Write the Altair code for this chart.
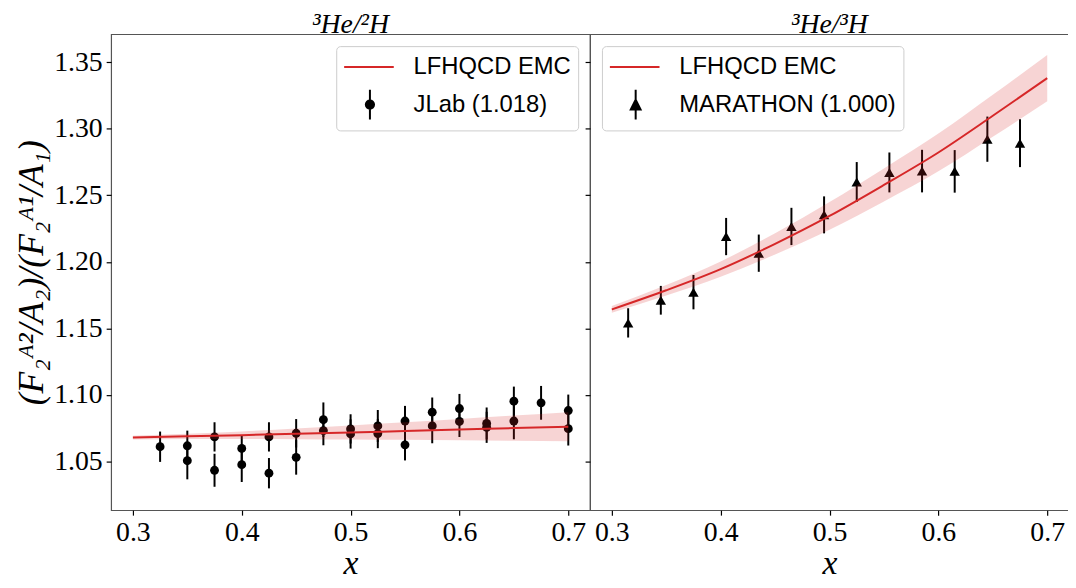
import altair as alt
import pandas as pd

RED = "#d62728"

# ---- axis ticks ----
x_ticks = [0.3, 0.4, 0.5, 0.6, 0.7]
y_ticks = [1.05, 1.10, 1.15, 1.20, 1.25, 1.30, 1.35]

# ---- left panel: 3He/2H, JLab data ----
jlab_x = [0.325, 0.35, 0.35, 0.375, 0.375, 0.40, 0.40, 0.425, 0.425, 0.45, 0.45,
          0.475, 0.475, 0.50, 0.50, 0.525, 0.525, 0.55, 0.55, 0.575, 0.575,
          0.60, 0.60, 0.625, 0.625, 0.65, 0.65, 0.675, 0.70, 0.70]
jlab_y = [1.0610, 1.0617, 1.0505, 1.0684, 1.0433, 1.0597, 1.0475, 1.0684, 1.0411,
          1.0711, 1.0530, 1.0813, 1.0731, 1.0744, 1.0706, 1.0766, 1.0709, 1.0803,
          1.0624, 1.0870, 1.0766, 1.0897, 1.0800, 1.0785, 1.0756, 1.0952, 1.0803,
          1.0940, 1.0882, 1.0746]
jlab_err = [0.0114, 0.0114, 0.0140, 0.0110, 0.0124, 0.0097, 0.0130, 0.0110, 0.0114,
            0.0107, 0.0130, 0.0130, 0.0110, 0.0110, 0.0110, 0.0120, 0.0110, 0.0114,
            0.0117, 0.0110, 0.0130, 0.0110, 0.0117, 0.0120, 0.0117, 0.0110, 0.0137,
            0.0127, 0.0120, 0.0127]

# ---- right panel: 3He/3H, MARATHON data ----
mar_x = [0.315, 0.345, 0.375, 0.405, 0.435, 0.465, 0.495, 0.525, 0.555, 0.585,
         0.615, 0.645, 0.675]
mar_y = [1.1541, 1.1711, 1.1772, 1.2190, 1.2065, 1.2266, 1.2353, 1.2600, 1.2672,
         1.2682, 1.2680, 1.2922, 1.2892]
mar_err = [0.0110, 0.0108, 0.0129, 0.0140, 0.0140, 0.0140, 0.0139, 0.0150, 0.0150,
           0.0160, 0.0160, 0.0170, 0.0180]

# ---- LFHQCD EMC curves and bands ----
curve_x = [0.30, 0.35, 0.40, 0.45, 0.50, 0.55, 0.60, 0.65, 0.70]
emc_hed = [1.0679, 1.0688, 1.0697, 1.0707, 1.0717, 1.0728, 1.0739, 1.0750, 1.0761]
emc_hed_band = [0.0014, 0.0020, 0.0028, 0.0040, 0.0053, 0.0066, 0.0080, 0.0095, 0.0109]
emc_het = [1.1642, 1.1786, 1.1945, 1.2135, 1.2345, 1.2578, 1.2822, 1.3098, 1.3381]
emc_het_band = [0.0025, 0.0040, 0.0058, 0.0080, 0.0104, 0.0124, 0.0142, 0.0158, 0.0174]

CURVE_LABEL = "LFHQCD EMC"
JLAB_LABEL = "JLab (1.018)"
MAR_LABEL = "MARATHON (1.000)"


def pts_frame(xs, ys, errs, label):
    return pd.DataFrame({"x": xs, "y": ys,
                         "lo": [v - e for v, e in zip(ys, errs)],
                         "hi": [v + e for v, e in zip(ys, errs)],
                         "series": label})


def curve_frame(xs, ys, half, label):
    return pd.DataFrame({"x": xs, "y": ys,
                         "lo": [v - h for v, h in zip(ys, half)],
                         "hi": [v + h for v, h in zip(ys, half)],
                         "series": label})


SERIF = "Liberation Serif"
SANS = "Liberation Sans"
H = 480
W = 483
X_DOMAIN = [0.28, 0.72]
Y_DOMAIN = [1.0133, 1.3711]
# legend glyphs (unit = 13 px with symbolSize 676)
LINE_PATH = "M-1,0H2.85"
CIRCLE_BAR = "M1,-1.15V1.15M1.32,0A0.32,0.32,0,1,1,0.68,0A0.32,0.32,0,1,1,1.32,0Z"
TRI_BAR = "M1,-1.15V1.15M1,-0.38L0.62,0.38L1.38,0.38Z"


def make_legend(orient, pt_path):
    test = "datum.value === '%s'" % CURVE_LABEL
    return alt.Legend(
        title=None, orient=orient, offset=12, padding=7, cornerRadius=4,
        fillColor="rgba(255,255,255,0.8)", strokeColor="#cccccc",
        labelFont=SANS, labelFontSize=24, labelColor="#000000", labelOffset=43,
        labelLimit=400,
        symbolSize=676, symbolStrokeWidth=2, rowPadding=7, symbolOpacity=1,
        symbolType={"expr": "%s ? '%s' : '%s'" % (test, LINE_PATH, pt_path)},
        symbolFillColor={"expr": "%s ? 'transparent' : 'black'" % test},
        symbolStrokeColor={"expr": "%s ? '%s' : 'black'" % (test, RED)},
    )


def panel(pts, curve, label, shape, marker_size, pt_path, title, orient, left_axis):
    xscale = alt.Scale(domain=X_DOMAIN, nice=False, zero=False)
    yscale = alt.Scale(domain=Y_DOMAIN, nice=False, zero=False)
    xaxis = alt.Axis(values=x_ticks, format=".1f", title="x", labelFlush=False,
                     titleFont=SERIF, titleFontStyle="italic", titleFontSize=34,
                     titleFontWeight="normal", titlePadding=0)
    if left_axis:
        yaxis = alt.Axis(values=y_ticks, format=".2f",
                         title="(F₂ᴬ²/A₂)/(F₂ᴬ¹/A₁)", titleFont=SERIF,
                         titleFontStyle="italic", titleFontSize=36,
                         titleFontWeight="normal", titlePadding=3)
    else:
        yaxis = alt.Axis(values=y_ticks, labels=False, title=None)

    def X():
        return alt.X("x:Q", scale=xscale, axis=xaxis)

    def Y(field):
        return alt.Y(field, type="quantitative", scale=yscale, axis=yaxis)

    cscale = alt.Scale(domain=[CURVE_LABEL, label], range=[RED, "black"])
    legend = make_legend(orient, pt_path)
    color = alt.Color("series:N", scale=cscale, legend=legend)

    bars = alt.Chart(pts).mark_rule(color="black", strokeWidth=2).encode(
        x=X(), y=Y("lo"), y2="hi")
    dots = alt.Chart(pts).mark_point(shape=shape, filled=True, size=marker_size,
                                     opacity=1).encode(x=X(), y=Y("y"), color=color)
    band = alt.Chart(curve).mark_area(color=RED, opacity=0.2,
                                      interpolate="monotone").encode(
        x=X(), y=Y("lo"), y2="hi")
    line = alt.Chart(curve).mark_line(strokeWidth=2, interpolate="monotone").encode(
        x=X(), y=Y("y"), color=color)
    return alt.layer(bars, dots, band, line).properties(
        width=W, height=H,
        title=alt.TitleParams(title, font=SERIF, fontStyle="italic", fontSize=28,
                              fontWeight="normal", anchor="middle", frame="group",
                              offset=-5, color="black"))


left = panel(pts_frame(jlab_x, jlab_y, jlab_err, JLAB_LABEL),
             curve_frame(curve_x, emc_hed, emc_hed_band, CURVE_LABEL),
             JLAB_LABEL, "circle", 80, CIRCLE_BAR, "³He/²H", "top-right", True)
right = panel(pts_frame(mar_x, mar_y, mar_err, MAR_LABEL),
              curve_frame(curve_x, emc_het, emc_het_band, CURVE_LABEL),
              MAR_LABEL, "triangle-up", 110, TRI_BAR, "³He/³H", "top-left", False)

chart = alt.hconcat(left, right, spacing=0, bounds="flush").resolve_scale(
    x="independent", y="independent", color="independent"
).properties(
    padding={"left": 5, "right": -2, "top": 0, "bottom": 0}
).configure_view(
    stroke="#555555", strokeWidth=1.2
).configure_axis(
    domain=False, grid=False, tickColor="#000000", tickWidth=1.2, tickSize=5,
    labelFont=SERIF, labelFontSize=28, labelColor="#000000", labelPadding=4,
    titleColor="#000000"
)

chart.save("out.html", embed_options={"renderer": "svg", "actions": False})
